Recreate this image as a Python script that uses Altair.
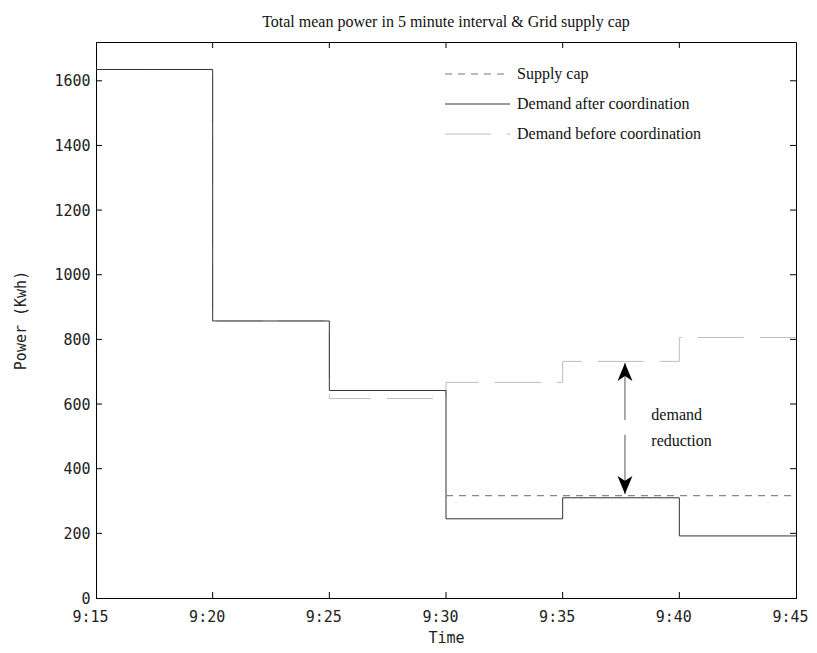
import altair as alt
import pandas as pd

# ---- data ----
tick_labels = ["9:15", "9:20", "9:25", "9:30", "9:35", "9:40", "9:45"]
time_min = [0, 5, 10, 15, 20, 25, 30]          # minutes after 9:15
after_coord = [1635, 857, 642, 245, 310, 192]   # Demand after coordination
before_coord = [1635, 857, 617, 667, 732, 806]  # Demand before coordination
cap_time = [15, 30]
cap_value = [317, 317]
y_ticks = [0, 200, 400, 600, 800, 1000, 1200, 1400, 1600]

series_names = ["Supply cap", "Demand after coordination", "Demand before coordination"]
annot_lines = ["demand", "reduction"]
annot_y = [566, 486]
annot_x = 23.8
arrow_x = 22.67
arrow_top, arrow_bot = 727, 322
arrow_gap_top, arrow_gap_bot = 551, 505

W, H = 700, 556
XMAX, YMAX = 30, 1720

xs = alt.Scale(domain=[0, XMAX], nice=False, zero=False)
ys = alt.Scale(domain=[0, YMAX], nice=False)

label_expr = "[" + ",".join("'%s'" % s for s in tick_labels) + "][round(datum.value/5)]"

MONO = "DejaVu Sans Mono"
SERIF = "Liberation Serif"

x_axis = alt.Axis(values=time_min, labelExpr=label_expr, title="Time", grid=False,
                  tickSize=0, labelPadding=11, labelOffset=-6, labelFont=MONO, labelFontSize=15,
                  labelColor="#222", titleFont=MONO, titleFontSize=15,
                  titleFontWeight="normal", titleColor="#222", titlePadding=6,
                  domainColor="black", labelOverlap=False, labelFlush=False)
y_axis = alt.Axis(values=y_ticks, format="d", title="Power (Kwh)", grid=False, tickSize=0,
                  labelPadding=6, labelFont=MONO, labelFontSize=15, labelColor="#222",
                  titleFont=MONO, titleFontSize=15, titleFontWeight="normal",
                  titleColor="#222", titlePadding=25, domainColor="black")

df_after = pd.DataFrame({"t": time_min, "v": after_coord + [after_coord[-1]]})
df_before = pd.DataFrame({"t": time_min, "v": before_coord + [before_coord[-1]]})
df_cap = pd.DataFrame({"t": cap_time, "v": cap_value})

before = alt.Chart(df_before).mark_line(interpolate="step-after", color="#bdbdbd",
                                        strokeWidth=1, strokeDash=[46, 16]).encode(
    x=alt.X("t:Q", scale=xs, axis=x_axis), y=alt.Y("v:Q", scale=ys, axis=y_axis))
after = alt.Chart(df_after).mark_line(interpolate="step-after", color="#333",
                                      strokeWidth=1).encode(
    x=alt.X("t:Q", scale=xs), y=alt.Y("v:Q", scale=ys))
cap = alt.Chart(df_cap).mark_line(color="#888", strokeWidth=1.2, strokeDash=[7, 6]).encode(
    x=alt.X("t:Q", scale=xs), y=alt.Y("v:Q", scale=ys))

# inward ticks on all four sides
xt = pd.DataFrame({"t": time_min[1:-1]})
yt = pd.DataFrame({"v": y_ticks[1:]})
xt_b = alt.Chart(xt).mark_rule(color="black").encode(
    x=alt.X("t:Q", scale=xs), y=alt.value(H), y2=alt.value(H - 6))
xt_t = alt.Chart(xt).mark_rule(color="black").encode(
    x=alt.X("t:Q", scale=xs), y=alt.value(0), y2=alt.value(6))
yt_l = alt.Chart(yt).mark_rule(color="black").encode(
    y=alt.Y("v:Q", scale=ys), x=alt.value(0), x2=alt.value(6))
yt_r = alt.Chart(yt).mark_rule(color="black").encode(
    y=alt.Y("v:Q", scale=ys), x=alt.value(W), x2=alt.value(W - 6))

# custom legend (no box)
leg_styles = [("#777", [7, 6]), ("#333", [1, 0]), ("#bdbdbd", [46, 16])]
legend_layers = []
for i, (name, (col, dash)) in enumerate(zip(series_names, leg_styles)):
    yy = 32 + 30 * i
    d = pd.DataFrame({"name": [name]})
    legend_layers.append(alt.Chart(d).mark_rule(color=col, strokeWidth=1, strokeDash=dash).encode(
        x=alt.value(349), x2=alt.value(414), y=alt.value(yy)))
    legend_layers.append(alt.Chart(d).mark_text(align="left", baseline="middle", font=SERIF,
                                               fontSize=16, color="#111").encode(
        x=alt.value(421), y=alt.value(yy), text="name:N"))

# double arrow annotation
shaft = pd.DataFrame({"x": [arrow_x, arrow_x], "y1": [arrow_top, arrow_gap_bot],
                      "y2": [arrow_gap_top, arrow_bot]})
shaft_l = alt.Chart(shaft).mark_rule(color="#555", strokeWidth=1).encode(
    x=alt.X("x:Q", scale=xs), y=alt.Y("y1:Q", scale=ys), y2="y2:Q")
up_head = alt.Chart(pd.DataFrame({"x": [arrow_x], "y": [arrow_top]})).mark_point(
    shape="M0,0 L0.83,2 L0,1.45 L-0.83,2 Z", filled=True, color="black", size=324, opacity=1).encode(
    x=alt.X("x:Q", scale=xs), y=alt.Y("y:Q", scale=ys))
down_head = alt.Chart(pd.DataFrame({"x": [arrow_x], "y": [arrow_bot]})).mark_point(
    shape="M0,0 L0.83,-2 L0,-1.45 L-0.83,-2 Z", filled=True, color="black", size=324, opacity=1).encode(
    x=alt.X("x:Q", scale=xs), y=alt.Y("y:Q", scale=ys))
annot = alt.Chart(pd.DataFrame({"x": [annot_x] * 2, "y": annot_y, "s": annot_lines})).mark_text(
    align="left", baseline="middle", font=SERIF, fontSize=16, color="#111").encode(
    x=alt.X("x:Q", scale=xs), y=alt.Y("y:Q", scale=ys), text="s:N")

chart = alt.layer(before, after, cap, xt_b, xt_t, yt_l, yt_r, shaft_l, up_head, down_head,
                  annot, *legend_layers).properties(
    width=W, height=H,
    title=alt.Title("Total mean power in 5 minute interval & Grid supply cap",
                    font=SERIF, fontSize=16, fontWeight="normal", color="#111",
                    anchor="middle", offset=12),
    autosize=alt.AutoSizeParams(type="none"),
    padding={"left": 88, "top": 34, "right": 13, "bottom": 47},
).configure_view(stroke="black", strokeWidth=1)

chart.save("out.html", embed_options={"renderer": "svg", "actions": False})
